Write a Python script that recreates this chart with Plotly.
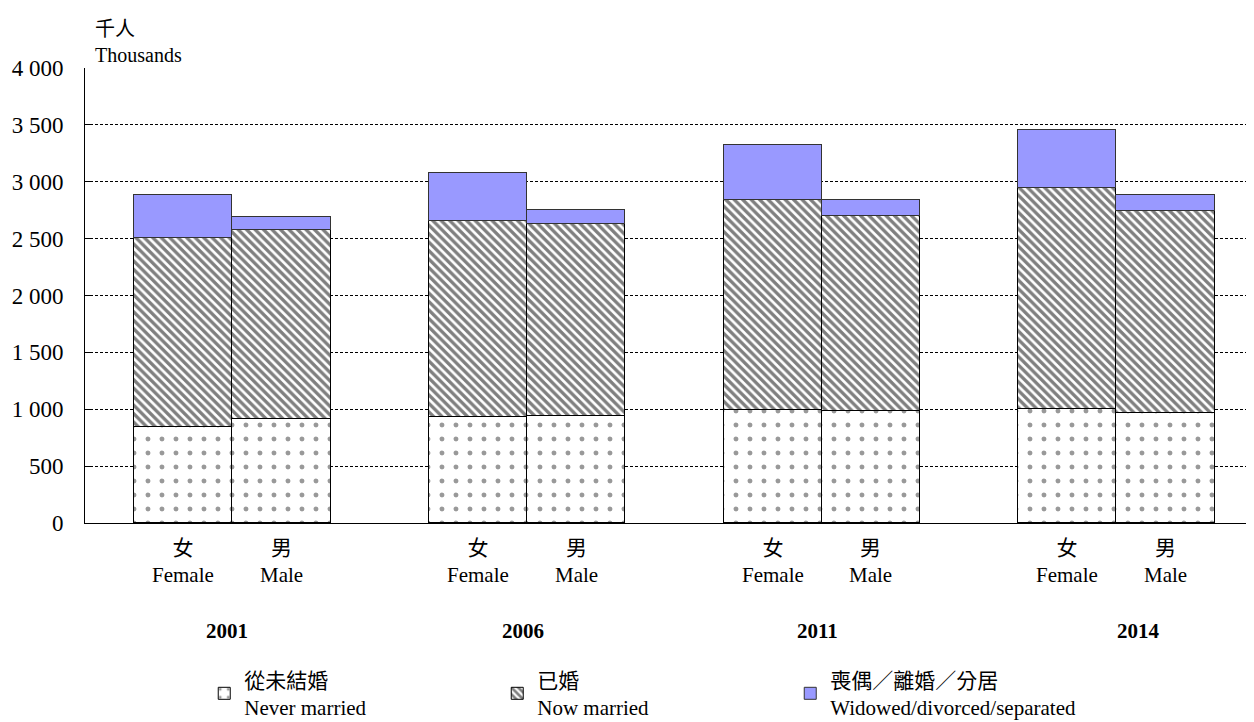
import plotly.graph_objects as go

# values (thousands)
years = ['2001', '2006', '2011', '2014']
sexes_zh = ['女', '男']
sexes_en = ['Female', 'Male']

never_female = [844, 932, 993, 1002]
never_male = [914, 941, 985, 967]
married_female = [1661, 1723, 1847, 1943]
married_male = [1662, 1688, 1714, 1776]
widowed_female = [379, 422, 483, 510]
widowed_male = [114, 123, 141, 141]

y_ticks = [0, 500, 1000, 1500, 2000, 2500, 3000, 3500, 4000]

FONT = 'Liberation Serif, Times New Roman, Noto Sans CJK TC, serif'

# small nudges of the year labels, as placed in the original
year_shift = [-5, -4, -4, 22]

# female bar left of the group centre, male bar right of it
x_pos = []
for g in range(len(years)):
    x_pos += [3 * g - 0.5, 3 * g + 0.5]


def interleave(f, m):
    out = []
    for a, b in zip(f, m):
        out += [a, b]
    return out


fig = go.Figure()
fig.add_trace(go.Bar(
    x=x_pos, y=interleave(never_female, never_male), width=1,
    name='從未結婚<br>Never married',
    marker=dict(color='white', line=dict(color='black', width=1),
                pattern=dict(shape='.', fgcolor='#333333', bgcolor='white', size=14, solidity=0.1)),
))
fig.add_trace(go.Bar(
    x=x_pos, y=interleave(married_female, married_male), width=1,
    name='已婚<br>Now married',
    marker=dict(color='white', line=dict(color='black', width=1),
                pattern=dict(shape='\\', fgcolor='black', bgcolor='white', size=6, solidity=0.55)),
))
fig.add_trace(go.Bar(
    x=x_pos, y=interleave(widowed_female, widowed_male), width=1,
    name='喪偶／離婚／分居<br>Widowed/divorced/separated',
    marker=dict(color='#9999FF', line=dict(color='#333333', width=1)),
))

# sex labels under each bar, year labels under each pair
for g, yr in enumerate(years):
    for s in range(2):
        fig.add_annotation(x=x_pos[2 * g + s], y=-0.024, xref='x', yref='paper',
                           text=sexes_zh[s] + '<br>' + sexes_en[s], showarrow=False,
                           yanchor='top', font=dict(size=21, family=FONT, color='black'))
    fig.add_annotation(x=3 * g, y=-0.237, xref='x', yref='paper', xshift=year_shift[g],
                       text='<b>' + yr + '</b>', showarrow=False,
                       yanchor='middle', font=dict(size=21, family=FONT, color='black'))

fig.add_annotation(x=0.007, y=1.0, xref='paper', yref='paper', xanchor='left', yanchor='bottom',
                   text='千人<br>Thousands', showarrow=False, align='left',
                   font=dict(size=20, family=FONT, color='black'))

# the page body adds an 8px offset, so the figure is 8px smaller than the window
fig.update_layout(
    width=1246, height=714,
    margin=dict(l=77, r=0, t=60, b=199, autoexpand=False),
    barmode='stack', bargap=0,
    plot_bgcolor='white', paper_bgcolor='white',
    separators='. ',
    font=dict(family=FONT, size=21, color='black'),
    showlegend=True,
    legend=dict(orientation='h', x=0.102, y=-0.3, xanchor='left', yanchor='top',
                entrywidth=248, entrywidthmode='pixels', traceorder='normal',
                font=dict(size=21, family=FONT, color='black')),
)
fig.update_xaxes(range=[-1.5, 10.4], showticklabels=False, showgrid=False, zeroline=False,
                 showline=True, linecolor='black', linewidth=1, ticks='', automargin=False)
fig.update_yaxes(range=[0, 4000], tickvals=y_ticks, tickformat=',d', showgrid=True,
                 gridcolor='black', gridwidth=1, griddash='3px,2px', zeroline=False,
                 showline=True, linecolor='black', linewidth=1, ticks='inside', ticklen=6,
                 tickcolor='black', ticklabelstandoff=16, automargin=False,
                 tickfont=dict(size=23, family=FONT))

fig.write_html('out.html')
